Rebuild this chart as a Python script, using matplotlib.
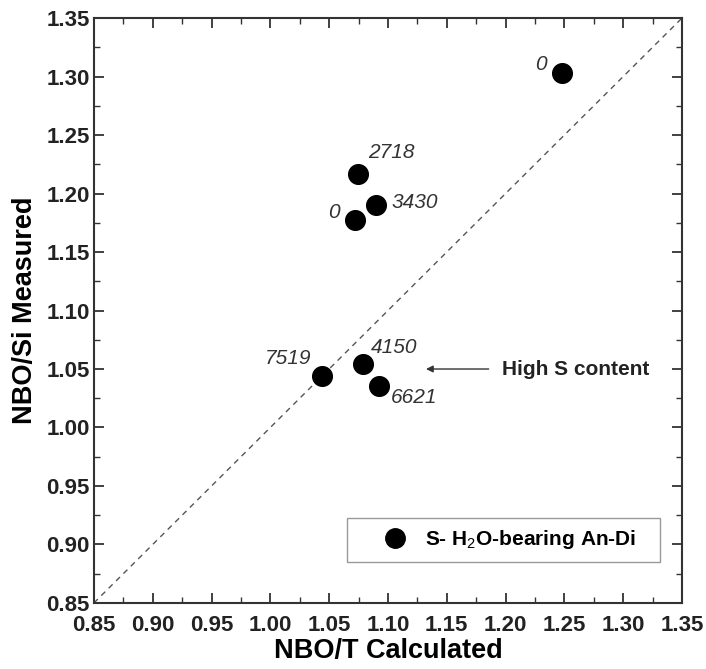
import matplotlib
matplotlib.use("Agg")
import matplotlib.pyplot as plt
from matplotlib.ticker import MultipleLocator
from matplotlib.lines import Line2D
from matplotlib.patches import Rectangle

plt.rcParams['font.family'] = ['Liberation Sans', 'DejaVu Sans']
plt.rcParams['mathtext.fontset'] = 'custom'
plt.rcParams['mathtext.bf'] = 'Liberation Sans:bold'
plt.rcParams['mathtext.rm'] = 'Liberation Sans'

nbo_t_calc = [1.248, 1.0745, 1.090, 1.072, 1.044, 1.0787, 1.0923]
nbo_si_meas = [1.303, 1.2167, 1.190, 1.1774, 1.044, 1.0543, 1.0355]
labels = ["0", "2718", "3430", "0", "7519", "4150", "6621"]
label_pos = [(1.225, 1.310), (1.083, 1.2355), (1.1034, 1.192), (1.049, 1.184),
             (0.9954, 1.0594), (1.0855, 1.068), (1.1026, 1.026)]
ticks = [0.85, 0.90, 0.95, 1.00, 1.05, 1.10, 1.15, 1.20, 1.25, 1.30, 1.35]

fig = plt.figure(figsize=(7.06, 6.69), dpi=100)
ax = fig.add_axes([0.133, 0.0987, 0.833, 0.8743])

ax.plot([0.85, 1.35], [0.85, 1.35], ls=(0, (4, 3.5)), color='#555555', lw=1.0, zorder=1)
ax.scatter(nbo_t_calc, nbo_si_meas, s=200, color='black', zorder=3)

for lab, (lx, ly) in zip(labels, label_pos):
    ax.text(lx, ly, lab, fontsize=15, style='italic', color='#333333', ha='left', va='center')

ax.annotate("", xy=(1.130, 1.050), xytext=(1.188, 1.050),
            arrowprops=dict(arrowstyle='-|>', color='#333333', lw=1.0, mutation_scale=10))
ax.text(1.197, 1.050, "High S content", fontsize=15, fontweight='bold', color='#222222',
        ha='left', va='center')

ax.set_xlim(0.85, 1.35)
ax.set_ylim(0.85, 1.35)
ax.set_xticks(ticks)
ax.set_yticks(ticks)
ax.set_xticklabels([f"{t:.2f}" for t in ticks])
ax.set_yticklabels([f"{t:.2f}" for t in ticks])
ax.xaxis.set_minor_locator(MultipleLocator(0.025))
ax.yaxis.set_minor_locator(MultipleLocator(0.025))
ax.tick_params(which='both', direction='in', top=True, right=True, color='#333333')
ax.tick_params(which='major', length=7, width=1.3, labelsize=16)
ax.tick_params(axis='x', which='major', pad=9)
ax.tick_params(axis='y', which='major', pad=3)
ax.tick_params(which='minor', length=4, width=1.0)
for lab in ax.get_xticklabels() + ax.get_yticklabels():
    lab.set_fontweight('bold')
    lab.set_color('#222222')
for sp in ax.spines.values():
    sp.set_linewidth(1.5)
    sp.set_color('#333333')

ax.set_xlabel("NBO/T Calculated", fontsize=19.5, fontweight='bold', labelpad=1)
ax.set_ylabel("NBO/Si Measured", fontsize=19.5, fontweight='bold', labelpad=6)

ax.add_patch(Rectangle((0.430, 0.070), 0.533, 0.075, transform=ax.transAxes,
                       fill=False, edgecolor='#999999', lw=1.0, zorder=4))
handle = Line2D([], [], marker='o', ls='none', color='black', markersize=14)
leg = ax.legend([handle], [r"S- H$_\mathrm{2}$O-bearing An-Di"], loc='center left',
                bbox_to_anchor=(0.494, 0.1077), frameon=False,
                prop={'weight': 'bold', 'size': 15}, handletextpad=0.94,
                borderpad=0, borderaxespad=0, handlelength=1.0)

fig.savefig("out.png", dpi=100)
